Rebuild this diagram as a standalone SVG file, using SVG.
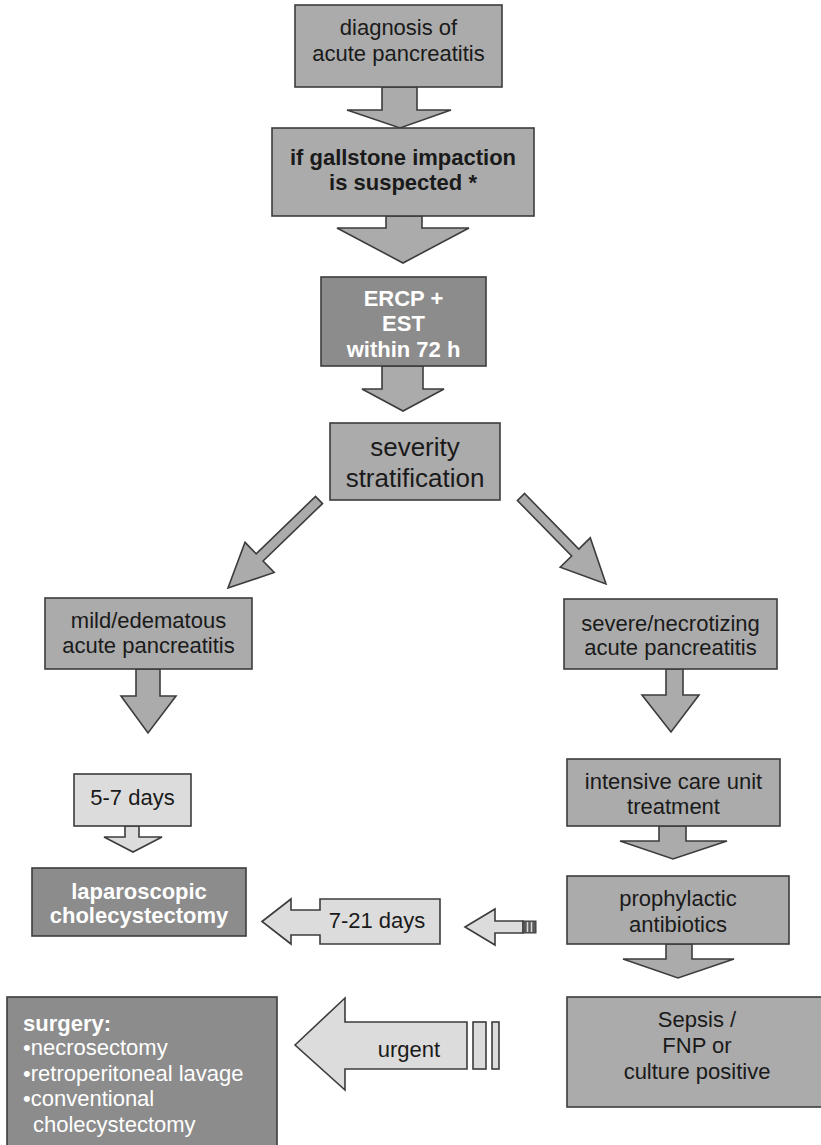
<svg xmlns="http://www.w3.org/2000/svg" width="821" height="1145" viewBox="0 0 821 1145">
<style>
.box{fill:#ababab;stroke:#3c3c3c;stroke-width:1.6}
.dark{fill:#8c8c8c;stroke:#3c3c3c;stroke-width:1.6}
.light{fill:#dcdcdc;stroke:#3c3c3c;stroke-width:1.6}
.arr{fill:#ababab;stroke:#3c3c3c;stroke-width:1.6;stroke-linejoin:miter}
.t{font-family:"Liberation Sans",Arial,sans-serif;font-size:22px;fill:#1a1a1a;text-anchor:middle}
.tb{font-family:"Liberation Sans",Arial,sans-serif;font-size:22px;font-weight:bold;fill:#1a1a1a;text-anchor:middle}
.tw{font-family:"Liberation Sans",Arial,sans-serif;font-size:22px;font-weight:bold;fill:#ffffff;text-anchor:middle}
.tws{font-family:"Liberation Sans",Arial,sans-serif;font-size:22px;fill:#ffffff}
</style>
<rect width="821" height="1145" fill="#ffffff"/>
<g id="connectors">
  <polygon class="arr" points="382,87 417,87 417,110 451,110 400,128 347,110 382,110"/>
  <polygon class="arr" points="386,216 422,216 422,228 469,228 403,263 337,228 386,228"/>
  <polygon class="arr" points="382,366 423,366 423,389 444,389 403,411 362,389 382,389"/>
  <polygon class="arr" transform="translate(319,500) rotate(135.96)" points="0,-5 82.6,-5 82.6,-21 126.6,0 82.6,21 82.6,5 0,5"/>
  <polygon class="arr" transform="translate(521,497) rotate(45.66)" points="0,-5 77.6,-5 77.6,-21 121.6,0 77.6,21 77.6,5 0,5"/>
  <polygon class="arr" points="136,669 160,669 160,696 176,696 148,733 121,696 136,696"/>
  <polygon class="arr" points="666,669 683,669 683,695 699,695 671,732 642,695 666,695"/>
  <polygon class="light" points="125,826 139,826 139,837 162,837 133,852 104,837 125,837"/>
  <polygon class="arr" points="659,826 686,826 686,841 727,841 673,859 620,841 659,841"/>
  <polygon class="arr" points="666,944 692,944 692,959 734,959 678,978 623,959 666,959"/>
  <polygon class="light" points="465,927 495,909 495,921 523,921 523,933 495,933 495,945"/>
  <rect x="523" y="921" width="13" height="12" fill="#5a5a5a" stroke="#3c3c3c" stroke-width="1"/>
  <line x1="527.5" y1="922" x2="527.5" y2="932" stroke="#dcdcdc" stroke-width="1.5"/>
  <line x1="531.5" y1="922" x2="531.5" y2="932" stroke="#dcdcdc" stroke-width="1.5"/>
  <rect x="473" y="1022" width="13" height="47" class="light"/>
  <rect x="492" y="1022" width="7" height="47" class="light"/>
</g>
<g id="n-diagnosis">
  <rect class="box" x="295" y="5" width="207" height="82"/>
  <text class="t" x="398.5" y="35">diagnosis of</text>
  <text class="t" x="398.5" y="61">acute pancreatitis</text>
</g>
<g id="n-gallstone">
  <rect class="box" x="272" y="128" width="262" height="88"/>
  <text class="tb" x="403" y="165">if gallstone impaction</text>
  <text class="tb" x="403" y="190">is suspected *</text>
</g>
<g id="n-ercp">
  <rect class="dark" x="321" y="277" width="165" height="89"/>
  <text class="tw" x="403.5" y="306">ERCP +</text>
  <text class="tw" x="403.5" y="331">EST</text>
  <text class="tw" x="403.5" y="357">within 72 h</text>
</g>
<g id="n-severity">
  <rect class="box" x="330" y="423" width="170" height="77"/>
  <text class="t" x="415" y="456" style="font-size:26px">severity</text>
  <text class="t" x="415" y="487" style="font-size:26px">stratification</text>
</g>
<g id="n-mild">
  <rect class="box" x="45" y="598" width="207" height="71"/>
  <text class="t" x="148.5" y="628">mild/edematous</text>
  <text class="t" x="148.5" y="653">acute pancreatitis</text>
</g>
<g id="n-severe">
  <rect class="box" x="564" y="599" width="213" height="70"/>
  <text class="t" x="670.5" y="631">severe/necrotizing</text>
  <text class="t" x="670.5" y="655">acute pancreatitis</text>
</g>
<g id="n-days57">
  <rect class="light" x="74" y="774" width="117" height="52"/>
  <text class="t" x="132.5" y="805">5-7 days</text>
</g>
<g id="n-icu">
  <rect class="box" x="567" y="759" width="213" height="67"/>
  <text class="t" x="673.5" y="789">intensive care unit</text>
  <text class="t" x="673.5" y="814">treatment</text>
</g>
<g id="n-lap">
  <rect class="dark" x="32" y="868" width="214" height="68"/>
  <text class="tw" x="139" y="899">laparoscopic</text>
  <text class="tw" x="139" y="923">cholecystectomy</text>
</g>
<g id="n-days721">
  <polygon class="light" points="262,921.5 291,899 291,910 320,910 320,899 440,899 440,944 320,944 320,935 291,935 291,944"/>
  <text class="t" x="377" y="928">7-21 days</text>
</g>
<g id="n-antibiotics">
  <rect class="box" x="567" y="876" width="222" height="68"/>
  <text class="t" x="678" y="906">prophylactic</text>
  <text class="t" x="678" y="932">antibiotics</text>
</g>
<g id="n-urgent">
  <polygon class="light" points="295,1045 345,998 345,1022 467,1022 467,1069 345,1069 345,1090"/>
  <text class="t" x="409" y="1057">urgent</text>
</g>
<g id="n-sepsis">
  <rect class="box" x="567" y="997" width="262" height="110"/>
  <text class="t" x="697" y="1027">Sepsis /</text>
  <text class="t" x="697" y="1053">FNP or</text>
  <text class="t" x="697" y="1079">culture positive</text>
</g>
<g id="n-surgery">
  <rect class="dark" x="7" y="997" width="270" height="160"/>
  <text class="tws" x="23" y="1031" font-weight="bold">surgery:</text>
  <text class="tws" x="23" y="1055">•necrosectomy</text>
  <text class="tws" x="23" y="1081">•retroperitoneal lavage</text>
  <text class="tws" x="23" y="1106">•conventional</text>
  <text class="tws" x="33" y="1132">cholecystectomy</text>
</g>
</svg>
